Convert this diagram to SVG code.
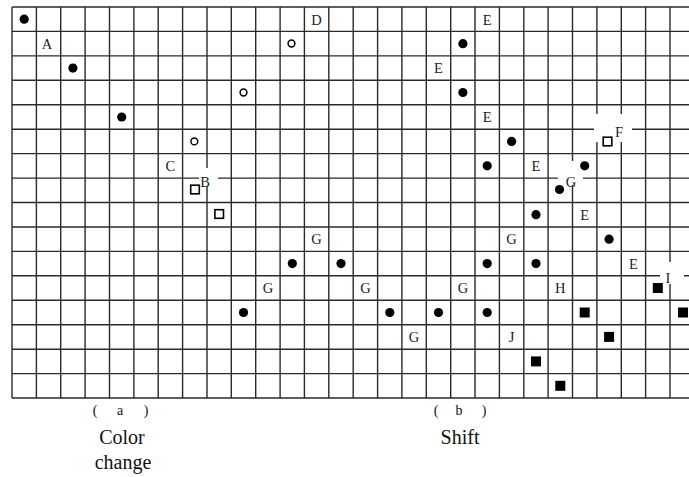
<svg xmlns="http://www.w3.org/2000/svg" xmlns:xlink="http://www.w3.org/1999/xlink" width="689" height="477" viewBox="0 0 689 477">
<style>
.grid{stroke:#2a2a2a;stroke-width:1.4;fill:none}
.lbl{font-family:"Liberation Serif","DejaVu Serif",serif;font-size:14.5px;fill:#222;text-anchor:middle}
.cap{font-family:"Liberation Serif","DejaVu Serif",serif;font-size:20px;fill:#111;text-anchor:middle}
.par{font-family:"Liberation Serif","DejaVu Serif",serif;font-size:14px;fill:#111;text-anchor:middle}
.gap{fill:#fff}
</style>
<defs>
<circle id="dot" r="4.6" fill="#000"/>
<circle id="ring" r="3.4" fill="#fff" stroke="#000" stroke-width="1.5"/>
<rect id="osq" x="-4.3" y="-4.3" width="8.6" height="8.6" fill="#fff" stroke="#000" stroke-width="1.6"/>
<rect id="fsq" x="-5" y="-5" width="10" height="10" fill="#000"/>
</defs>
<rect width="689" height="477" fill="#fff"/>
<g id="connectors">
<path class="grid" d="M12 7V398M36.4 7V398M60.7 7V398M85.1 7V398M109.5 7V398M133.9 7V398M158.2 7V398M182.6 7V398M207 7V398M231.3 7V398M255.7 7V398M280.1 7V398M304.4 7V398M328.8 7V398M353.2 7V398M377.6 7V398M401.9 7V398M426.3 7V398M450.7 7V398M475 7V398M499.4 7V398M523.8 7V398M548.1 7V398M572.5 7V398M596.9 7V398M621.3 7V398M645.6 7V398M670 7V398"/>
<path class="grid" d="M12 7H689M12 31.4H689M12 55.9H689M12 80.3H689M12 104.8H689M12 129.2H689M12 153.6H689M12 178.1H689M12 202.5H689M12 227H689M12 251.4H689M12 275.8H689M12 300.3H689M12 324.7H689M12 349.2H689M12 373.6H689M12 398H689"/>
<rect class="gap" x="199" y="168" width="19" height="18"/>
<rect class="gap" x="594" y="114" width="38" height="28"/>
<rect class="gap" x="558" y="161" width="25" height="24"/>
<rect class="gap" x="660" y="262" width="24" height="22"/>
</g>
<g id="a-marks">
<g id="a1"><use xlink:href="#dot" x="24.2" y="19.2"/></g>
<g id="labelA"><text class="lbl" x="47" y="48.5">A</text></g>
<g id="a2"><use xlink:href="#dot" x="72.9" y="68.1"/></g>
<g id="a3"><use xlink:href="#dot" x="121.7" y="117"/></g>
<g id="a4"><use xlink:href="#ring" x="194.3" y="141.4"/></g>
<g id="labelC"><text class="lbl" x="170.4" y="171">C</text></g>
<g id="a5"><use xlink:href="#osq" x="195" y="189.5"/></g>
<g id="labelB"><text class="lbl" x="205" y="186.5">B</text></g>
<g id="a6"><use xlink:href="#osq" x="219.2" y="214"/></g>
<g id="a7"><use xlink:href="#ring" x="243.5" y="92.5"/></g>
<g id="a8"><use xlink:href="#ring" x="291.5" y="43.5"/></g>
<g id="labelD"><text class="lbl" x="316.6" y="24.5">D</text></g>
</g>
<g id="b-marks">
<g id="g1"><use xlink:href="#dot" x="243.5" y="312.5"/></g>
<g id="labelG1"><text class="lbl" x="267.9" y="293">G</text></g>
<g id="g2"><use xlink:href="#dot" x="292.3" y="263.6"/></g>
<g id="labelG2"><text class="lbl" x="316.6" y="244">G</text></g>
<g id="g3"><use xlink:href="#dot" x="341" y="263.6"/></g>
<g id="labelG3"><text class="lbl" x="365.4" y="293">G</text></g>
<g id="g4"><use xlink:href="#dot" x="389.8" y="312.5"/></g>
<g id="labelG4"><text class="lbl" x="414.1" y="342">G</text></g>
<g id="g5"><use xlink:href="#dot" x="438.5" y="312.5"/></g>
<g id="labelG5"><text class="lbl" x="462.9" y="293">G</text></g>
<g id="g6"><use xlink:href="#dot" x="487.2" y="312.5"/></g>
<g id="labelE1"><text class="lbl" x="487.2" y="24.5">E</text></g>
<g id="e1"><use xlink:href="#dot" x="462.9" y="43.7"/></g>
<g id="labelE2"><text class="lbl" x="438.5" y="73">E</text></g>
<g id="e2"><use xlink:href="#dot" x="462.9" y="92.5"/></g>
<g id="labelE3"><text class="lbl" x="487.2" y="122">E</text></g>
<g id="e3"><use xlink:href="#dot" x="511.6" y="141.4"/></g>
<g id="e4"><use xlink:href="#dot" x="487.2" y="165.8"/></g>
<g id="labelE4"><text class="lbl" x="536" y="171">E</text></g>
<g id="e5"><use xlink:href="#dot" x="584.7" y="165.8"/></g>
<g id="e6"><use xlink:href="#dot" x="559.5" y="189.5"/></g>
<g id="labelG6"><text class="lbl" x="571" y="186.5">G</text></g>
<g id="f1"><use xlink:href="#osq" x="607.5" y="141.5"/></g>
<g id="labelF"><text class="lbl" x="619" y="136.5">F</text></g>
<g id="e7"><use xlink:href="#dot" x="536" y="214.7"/></g>
<g id="labelE5"><text class="lbl" x="584.7" y="219.5">E</text></g>
<g id="labelG7"><text class="lbl" x="511.6" y="244">G</text></g>
<g id="e8"><use xlink:href="#dot" x="609.1" y="239.2"/></g>
<g id="e9"><use xlink:href="#dot" x="487.2" y="263.6"/></g>
<g id="e10"><use xlink:href="#dot" x="536" y="263.6"/></g>
<g id="labelE6"><text class="lbl" x="633.5" y="268.5">E</text></g>
<g id="labelH"><text class="lbl" x="560.3" y="293">H</text></g>
<g id="s1"><use xlink:href="#fsq" x="657.8" y="288"/></g>
<g id="labelI"><text class="lbl" x="668" y="282.5">I</text></g>
<g id="s2"><use xlink:href="#fsq" x="584.7" y="312.5"/></g>
<g id="s3"><use xlink:href="#fsq" x="683" y="312.5"/></g>
<g id="labelJ"><text class="lbl" x="511.6" y="342">J</text></g>
<g id="s4"><use xlink:href="#fsq" x="609.1" y="336.9"/></g>
<g id="s5"><use xlink:href="#fsq" x="536" y="361.4"/></g>
<g id="s6"><use xlink:href="#fsq" x="560.3" y="385.8"/></g>
</g>
<g id="captions">
<text class="par" x="95" y="415">(</text><text class="par" x="120" y="415">a</text><text class="par" x="146" y="415">)</text>
<text class="cap" x="122" y="444">Color</text>
<text class="cap" x="123" y="469">change</text>
<text class="par" x="436" y="415">(</text><text class="par" x="459" y="415">b</text><text class="par" x="484" y="415">)</text>
<text class="cap" x="460" y="444">Shift</text>
</g>
</svg>
